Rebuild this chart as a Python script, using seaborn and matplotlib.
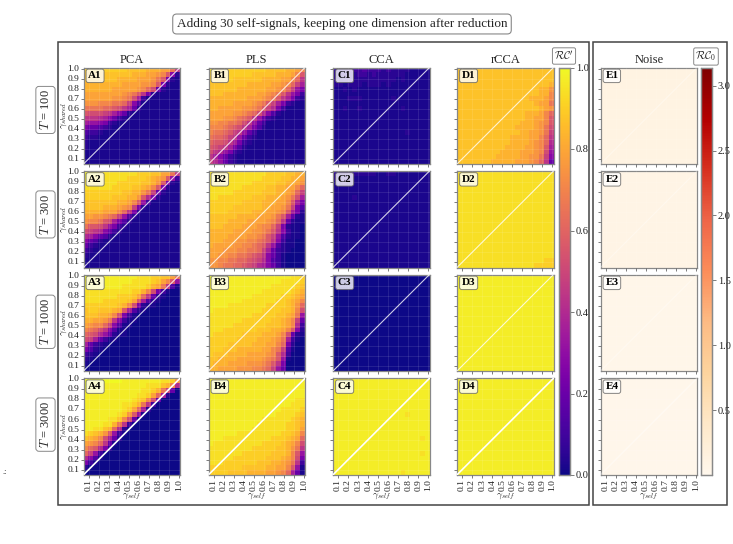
import numpy as np
import matplotlib
matplotlib.use('Agg')
import matplotlib.pyplot as plt
from matplotlib.patches import Rectangle
import seaborn as sns

sns.set_theme(style='white')
plt.rcParams['font.family'] = ['Liberation Serif', 'DejaVu Serif']
plt.rcParams['mathtext.fontset'] = 'cm'

W, H = 733, 544

# one character per cell, top row first, see LEVELS for what each one stands for.
# a short row carries on with its last character
A1 = ["mmmmmmmmmllllkkkjjgb", "llllllllllkkkjjihe72", "lllllllkkkkjjjige621", "kkkkkkkkjjjjiihe6211", "kkkkkkjjjjjihfd52111",
      "jjjjjjjjihgeb6211", "jjjjjjiihgd931", "iiihhhggfc741", "ggggffedb9521", "edddcb97521", "bbba975321", "98876321", "65543211", "4332111",
      "322111", "2111", "21", "1", "1", "1"]
A2 = ["ooonnnnnnnnmmmlljjgb", "onnnnnnnnmmmmlkjie83", "nnnnnnnmmmmmllkie621", "nnnnnnmmmmllkjhe6211", "mmmmmmmmllkkigc521",
      "mmmmmmlllkkiea621", "lllllllkkjhe8311", "llllkkkjihc6211", "kkkkjjjhfb621", "jjiihgfc8421", "ihhged96421", "geedb86321", "dcba753211",
      "a9754211", "75421", "5321", "3211", "21", "1", "1"]
A3 = ["ppooooooooonnnmmlljg", "oooooooooonnnnmljhe8", "oooooooonnnnnmkjgb41", "nnnnnnnnnnmmkhd6310", "nnnnnnnmmmljfb5210",
      "nnnnmmmmmlje94210", "mmmmmmmlkhd62110", "lmmlllkje94210", "lllkkjhd6310", "kkjjigb73110", "jihhfc74110", "hgfdb74110", "feda852110",
      "dc953110", "953210", "64210", "3210", "210", "10", "0"]
A4 = ["ppppppppoooooooonnmi", "ppooooooooooonnnlkha", "oooooooooooonnmkgc50", "ooooooooooonnmjf9200", "oooooooooonmlhd50",
      "oooooooonnmkgb30", "oooooooonmjf920", "ooooooonmie810", "ooooonnlhd50", "oooonnkgb30", "oonnlkfa20", "nmlkie8310", "lkjhd9520",
      "jihfb510", "hfea620", "fc8300", "a74100", "6310", "20", "0"]
B1 = ["nnmmmmmmmmmmllllkkjh", "mmmmmmmmmlllllkkkjhe", "mmmmmllllllkkkkjjhfb", "llllllllkkkkkjjihfc9", "llllllkkkkkkjjihfc86",
      "lllkkkkkkkjjihgeb863", "kkkkkkkkjjjihgeb9632", "kkkkkjjjjihgec963211", "kkjjjjjiihgeca631", "jjjjjiihgfda742111", "jjjiihgfeb85321",
      "iihhggfdb85311", "hhhgfedb964211", "hggfecb85311", "gffecb85321", "feedb96321", "edcb96421", "dba86321", "b975321", "ca85321"]
B2 = ["nnnnnnnnnnnnmmmmllkk", "onnnnnnnnnnmmmmllkkj", "nnnnnnnnnmmmmmllkkji", "nnnnnnnmmmmmllkkjjhf", "nnnnnmmmmmmlllkkjifc",
      "nnmmmmmmmlllkkkjigd9", "mmmmmmmllllkkkjjhe96", "mmmmmllllllkkjjigc64", "mmmmlllllkkkjjihe962", "llllllkkkkjjjige9521", "llllkkkkjjjjihfb5211",
      "lllkkkkjjjihhfc62110", "kkkkkjjjjiihgeb73110", "kkkkjjjjiihgec842110", "kkkjjjiihhgfeb731100", "kjjjjiihhgfeb8421100", "jjjiiihhggfc95321000",
      "jjiihhggfedb75310000", "iihhggffedca74310000", "iihggffedca975310000"]
B3 = ["ppooooooooooooooonnm", "ooooooooooooooonnnnm", "ooooooooooooonnnnnml", "ooooooooooonnnnnnmlk", "ooooooooonnnnnnmmlkj",
      "ooooooonnnnnnnmmlkjh", "oooonnnnnnnnmmmmlkif", "onnnnnnnnnnmmmmllkhd", "nnnnnnnnnmmmmmllkjg8", "nnnnnnnmmmmmmllkjhc5", "nnnnnmmmmmmmlllkjha3",
      "nnnmmmmmmmlllkkjhe72", "nmmmmmmllllkkkjhd521", "mmmmmmllllkkkjig9310", "mmmmlllllkkkjjhf6200", "mmmlllkkkkkjjhgc4100", "mlllkkkkjjjjihea3000",
      "llkkkkjjjjjihge81000", "lkkkjjjjiiihgeb60000", "kkjjjjiiihhgfc850000"]
B4 = ["o", "o", "o", "o", "oooooooooooooooooonn", "ooooooooooooooooonnn", "ooooooooooooooonnnnm", "oooooooooooooonnnnml",
      "ooooooooooonnnnnnmlk", "oooooooooonnnnnnmmlk", "ooooooooonnnnnnnmmlj", "oooooonnnnnnnnnmmlkh", "ooonnnnnnnnnnmmmlkjf", "onnnnnnnnnnmmmmlkjhd",
      "nnnnnnnnnmmmmmllkigb", "nnnnnnnmmmmmmlllkhe8", "nnnnnmmmmmmmlllkjhd6", "nnnmmmmmmmlllkkjigb3", "mmmmmmmlllllkkjjhe81", "mmmmllllkkkkjjihf951"]
C1 = ["22233343332322221111", "22222332322222211111", "21222222222221211111", "22122212221211111111", "11212111111111111111", "1", "11122211111121111111",
      "1", "11211211111111211111", "1", "1", "1", "1", "11111111111111121111", "1", "1", "1", "1", "1", "1"]
C2 = ["22222222211221111111", "21221111111111111111", "11211111111111111111", "1", "1", "11112111111111111111", "1", "1", "1", "1", "1", "1", "1", "1",
      "1", "1", "1", "1", "1", "1"]
C3 = ["0"] * 20
C4 = ["o", "o", "o", "o", "o", "o", "o", "ooooooooooooooonoooo", "o", "o", "o", "o", "oooooooooooooooooono", "o", "o", "oooooooooooooooooono", "o", "o", "o",
      "oooooooooooooonooooo"]
D1 = ["l", "l", "l", "lllllllllllllllllllk", "lllllllllllllllllkki", "lllllllllllllllllkkh",
      "lllllllllllllllkkkjh", "llllllllllllllllkjjg", "lllllllllllllllllkjig", "llllllllllllllkkkjhf", "llllllllllllllkkjjhe", "lllllllllllllkkkjihe",
      "llllllllllllkkkkjigd", "lllllllllllllkkjjigc", "lllllllllllkkkkjjhfb", "lllllllllllkkkkjihfa", "llllllllllkkkkjjihe9", "lllllllllkkkkjjjihd8",
      "llllllllkkkkkjjiigc7", "lllllllkkkkkjjjihfb5"]
D2 = ["n", "n", "n", "n", "n", "n", "n", "n", "n", "n", "n", "n", "n", "n", "n", "n", "n", "n", "nnnnnnnnnnnnnnnnnnmm", "nnnnnnnnnnnnnnnnmmmm"]
D3 = ["o"] * 20
D4 = ["o"] * 20
NOISE_LEVELS = [0.12, 0.08, 0.04, 0.03]

COLUMNS = ['PCA', 'PLS', 'CCA', 'rCCA', 'Noise']
SAMPLES = [100, 300, 1000, 3000]
PANELS = [[A1, B1, C1, D1], [A2, B2, C2, D2], [A3, B3, C3, D3], [A4, B4, C4, D4]]
TICKS = [0.1, 0.2, 0.3, 0.4, 0.5, 0.6, 0.7, 0.8, 0.9, 1.0]
TICK_LABELS = ['0.1', '0.2', '0.3', '0.4', '0.5', '0.6', '0.7', '0.8', '0.9', '1.0']
CBAR_TICKS = [0.0, 0.2, 0.4, 0.6, 0.8, 1.0]
CBAR_NOISE_TICKS = [0.5, 1.0, 1.5, 2.0, 2.5, 3.0]
DIGITS = '0123456789abcdefghijklmnop'
LEVELS = [0.0, 0.02, 0.05, 0.09, 0.14, 0.19, 0.24, 0.28, 0.32, 0.36, 0.40, 0.44, 0.48, 0.52, 0.56, 0.61,
          0.66, 0.71, 0.75, 0.79, 0.83, 0.87, 0.90, 0.94, 0.97, 1.0]
N_CELLS = 20
LO, HI = 0.05, 1.01


def decode(rows):
    out = []
    for r in rows:
        r = r.replace(' ', '')
        r = r.ljust(N_CELLS, r[-1])[:N_CELLS]
        out.append([LEVELS[DIGITS.index(c)] for c in r])
    return np.array(out)


def px_axes(x0, y0, x1, y1):
    return fig.add_axes([x0 / W, 1 - y1 / H, (x1 - x0) / W, (y1 - y0) / H])


fig = plt.figure(figsize=(W / 100, H / 100), dpi=100)

# outer frames
for x0, x1 in [(57.5, 589), (592.5, 727)]:
    fig.add_artist(Rectangle((x0 / W, 1 - 505 / H), (x1 - x0) / W, (505 - 42) / H, transform=fig.transFigure,
                             fill=False, ec='#444444', lw=1.1))

col_left = [83.5, 208.5, 333, 457, 600.5]
row_top = [67.5, 171, 274.5, 378.3]
t_label_y = [0.56, 0.55, 0.51, 0.52]
size = 96.5
box = dict(boxstyle='round,pad=0.25', fc='white', ec='#888888', lw=0.7)
small_box = dict(boxstyle='round,pad=0.15', fc='white', ec='#888888', lw=0.7)
label_box = dict(boxstyle='round,pad=0.2', fc='white', ec='#666666', lw=0.7, alpha=0.8)

cax = px_axes(558.5, 67.5, 569.5, 475)
cax_noise = px_axes(700.5, 67.5, 711.5, 475)

for r in range(4):
    for c in range(5):
        ax = px_axes(col_left[c], row_top[r], col_left[c] + size, row_top[r] + size)
        if c < 4:
            sns.heatmap(decode(PANELS[r][c]), ax=ax, cmap='plasma', vmin=0, vmax=1, cbar=(r == 0 and c == 0), cbar_ax=cax if (r == 0 and c == 0) else None)
        else:
            vals = np.full((N_CELLS, N_CELLS), NOISE_LEVELS[r])
            sns.heatmap(vals, ax=ax, cmap='OrRd', vmin=0, vmax=3.14, cbar=(r == 0), cbar_ax=cax_noise if r == 0 else None)
        xt = [(t - LO) / (HI - LO) * N_CELLS for t in TICKS]
        yt = [(HI - t) / (HI - LO) * N_CELLS for t in TICKS]
        ax.set_xticks(xt)
        ax.set_yticks(yt)
        ax.set_xticklabels(TICK_LABELS if r == 3 else [], rotation=90, fontsize=6.8)
        ax.set_yticklabels(TICK_LABELS if c == 0 else [], rotation=0, fontsize=6.8)
        ax.tick_params(length=2, width=0.6, color='#666666', pad=1, bottom=True, left=True, labelcolor='#222222')
        ax.grid(True, color='white', alpha=0.1, lw=0.7)
        ax.set_axisbelow(False)
        for s in ax.spines.values():
            s.set_visible(True)
            s.set_color('#888888')
            s.set_linewidth(0.9)
        lw = 1.2 if r == 3 else 0.8
        alpha = 0.35 if c == 4 else (1 if r == 3 else 0.8)
        ax.plot([0, 1], [0, 1], transform=ax.transAxes, color='white', lw=lw, alpha=alpha, zorder=5)
        ax.text(0.05, 0.96, 'ABCDE'[c] + str(r + 1), transform=ax.transAxes, ha='left', va='top', fontsize=8, fontweight='bold', color='black', bbox=label_box, zorder=6)
        if r == 0:
            ax.set_title(COLUMNS[c], fontsize=9, pad=3.5)
        if c == 0:
            ax.set_ylabel(r'$\gamma_{shared}$', fontsize=7)
            ax.yaxis.set_label_coords(-0.205, 0.5)
            ax.yaxis.label.set_va('center')
            ax.text(-0.394, t_label_y[r], '$T$ = %d' % SAMPLES[r], transform=ax.transAxes, rotation=90, ha='center', va='center', fontsize=9, bbox=box)
        if r == 3:
            ax.set_xlabel(r'$\gamma_{self}$', fontsize=7)
            ax.xaxis.set_label_coords(0.5, -0.228, transform=ax.transAxes)
            ax.xaxis.label.set_va('center')

for a, ticks, labs in [(cax, CBAR_TICKS, ['%.1f' % t for t in CBAR_TICKS]), (cax_noise, CBAR_NOISE_TICKS, ['%.1f' % t for t in CBAR_NOISE_TICKS])]:
    a.set_yticks(ticks)
    a.set_yticklabels(labs, fontsize=7.5)
    a.tick_params(length=3, width=0.6, color='#666666', pad=1.5, left=False, right=True, labelcolor='#222222')
    for s in a.spines.values():
        s.set_visible(True)
        s.set_color('#888888')
        s.set_linewidth(0.9)

fig.text(342 / W, 1 - 24 / H, 'Adding 30 self-signals, keeping one dimension after reduction', ha='center', va='center', fontsize=9.5, bbox=dict(boxstyle='round,pad=0.3', fc='white', ec='#888888', lw=0.8))
fig.text(564 / W, 1 - 56 / H, r"$\mathcal{RC}'$", ha='center', va='center', fontsize=8, bbox=small_box)
fig.text(706 / W, 1 - 56.5 / H, r'$\mathcal{RC}_0$', ha='center', va='center', fontsize=8, bbox=small_box)
fig.text(4.5 / W, 1 - 472 / H, '.:', ha='center', va='center', fontsize=6, color='#333333')

fig.savefig('out.png', dpi=100)
